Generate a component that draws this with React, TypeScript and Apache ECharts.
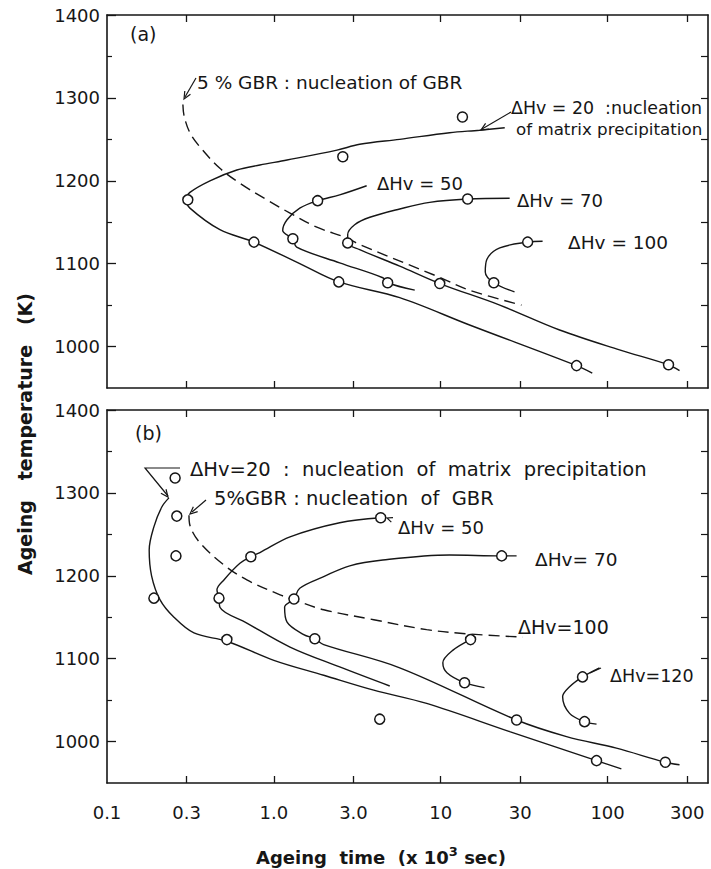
import React, { useEffect, useRef } from "react";
import * as echarts from "echarts";

// ---------- axes ----------
const timeTicks = [0.1, 0.3, 1, 3, 10, 30, 100, 300];
const timeTickLabels = ["0.1", "0.3", "1.0", "3.0", "10", "30", "100", "300"];
const timeMin = 0.1;
const timeMax = 400;
const tempMin = 950;
const tempMax = 1400;
const tempMajorTicks = [1000, 1100, 1200, 1300, 1400];
const tempMinorTicks = [1050, 1150, 1250, 1350];
const tempRightTicks = [1000, 1050, 1100, 1150, 1200, 1250, 1300, 1350];

// ---------- panel (a) ----------
const aMeasured: [number, number][] = [
  [0.305, 1177], [2.59, 1229], [1.83, 1176], [0.76, 1126], [1.3, 1130],
  [2.77, 1125], [2.45, 1078], [4.81, 1077], [9.87, 1076], [14.5, 1178],
  [33.2, 1126], [20.8, 1077], [65.2, 977], [232, 978], [13.5, 1277],
];
const aGbr5: [number, number][] = [
  [0.285, 1292], [0.29, 1278], [0.314, 1258], [0.36, 1241], [0.475, 1215],
  [0.626, 1197], [0.908, 1177], [1.25, 1161], [1.81, 1144], [2.74, 1131],
  [3.27, 1123], [9.46, 1085], [14.9, 1068], [30.5, 1050],
];
const aHv20: [number, number][] = [
  [24.2, 1264], [17.1, 1261], [11.3, 1258], [5.68, 1250], [3.27, 1244],
  [2.39, 1237], [1.2, 1225], [0.825, 1219], [0.6, 1213], [0.414, 1200],
  [0.314, 1186], [0.298, 1177], [0.314, 1167], [0.475, 1141], [0.76, 1126],
  [1.43, 1100], [2.45, 1078], [5.68, 1059], [14.9, 1026], [65.2, 977], [81, 968],
];
const aHv50: [number, number][] = [
  [3.6, 1194], [2.48, 1183], [1.83, 1176], [1.43, 1167], [1.2, 1153],
  [1.13, 1140], [1.3, 1130], [1.37, 1120], [2.48, 1101], [4.5, 1083],
  [4.81, 1077], [6.99, 1068],
];
const aHv70: [number, number][] = [
  [25.9, 1179], [14.5, 1178], [8.59, 1174], [5.68, 1166], [3.76, 1156],
  [3.05, 1147], [2.77, 1135], [2.77, 1125], [3.27, 1117], [5.68, 1097],
  [9.87, 1076], [22.6, 1050], [51.6, 1020], [118, 996], [232, 978], [270, 971],
];
const aHv100: [number, number][] = [
  [40.8, 1127], [33.2, 1126], [22.6, 1119], [18.9, 1105], [18.5, 1090],
  [20.8, 1077], [27.7, 1066],
];

// ---------- panel (b) ----------
const bMeasured: [number, number][] = [
  [0.256, 1318], [0.262, 1272], [0.259, 1224], [0.191, 1173], [0.523, 1123],
  [0.728, 1223], [0.469, 1173], [1.32, 1172], [1.76, 1124], [4.37, 1270],
  [4.31, 1027], [23.2, 1224], [15.1, 1123], [13.9, 1071], [28.5, 1026],
  [85.9, 977], [222, 975], [70.8, 1078], [72.8, 1024],
];
const bGbr5: [number, number][] = [
  [0.31, 1273], [0.314, 1261], [0.36, 1240], [0.502, 1213], [0.689, 1195],
  [1.09, 1177], [1.32, 1171], [1.99, 1159], [3.97, 1147], [8.24, 1135],
  [14.3, 1130], [31, 1126],
];
const bHv20: [number, number][] = [
  [0.235, 1294], [0.213, 1283], [0.191, 1259], [0.179, 1231], [0.185, 1200],
  [0.208, 1171], [0.252, 1150], [0.332, 1131], [0.523, 1121], [1.0, 1098],
  [1.99, 1080], [3.97, 1062], [8.24, 1046], [25.9, 1012], [85.9, 977], [121, 967],
];
const bHv50: [number, number][] = [
  [4.37, 1270], [2.48, 1264], [1.25, 1247], [0.825, 1228], [0.728, 1223],
  [0.626, 1215], [0.502, 1195], [0.456, 1183], [0.469, 1173], [0.475, 1162],
  [0.689, 1143], [1.25, 1114], [2.48, 1090], [4.95, 1067],
];
const bHv70: [number, number][] = [
  [28.5, 1224], [23.2, 1224], [11.3, 1225], [4.5, 1219], [2.85, 1212],
  [1.99, 1199], [1.43, 1185], [1.32, 1172], [1.16, 1162], [1.2, 1144],
  [1.51, 1129], [1.76, 1124], [1.99, 1117], [5.68, 1089], [28.5, 1026],
  [56.8, 1006], [113, 992], [222, 975], [270, 972],
];
const bHv100: [number, number][] = [
  [15.1, 1123], [11.8, 1110], [10.3, 1095], [10.9, 1083], [13.9, 1071], [18.3, 1065],
];
const bHv120: [number, number][] = [
  [89.5, 1089], [70.8, 1078], [59.2, 1066], [53.8, 1054], [59.2, 1034],
  [72.8, 1024], [85.9, 1021],
];

const INK = "#161616";
const FONT = "DejaVu Sans";

function fmtTime(v: number): string {
  for (let i = 0; i < timeTicks.length; i++) {
    if (Math.abs(Math.log10(v) - Math.log10(timeTicks[i])) < 1e-6) return timeTickLabels[i];
  }
  return "";
}

function xAxesFor(gridIndex: number, showLabels: boolean) {
  const base: any = {
    type: "log",
    logBase: 10,
    gridIndex,
    min: timeMin,
    max: timeMax,
    splitLine: { show: false },
    minorTick: { show: false },
    axisLine: { show: true, lineStyle: { color: INK, width: 1.6 } },
    axisTick: {
      show: true,
      inside: true,
      length: 7,
      customValues: timeTicks.slice(1),
      lineStyle: { color: INK, width: 1.3 },
    },
  };
  return [
    {
      ...base,
      position: "bottom",
      axisLabel: showLabels
        ? {
            show: true,
            customValues: timeTicks,
            formatter: fmtTime,
            margin: 20,
            fontSize: 18,
            color: INK,
            fontFamily: FONT,
          }
        : { show: false },
    },
    { ...base, position: "top", axisLabel: { show: false } },
  ];
}

function yAxesFor(gridIndex: number) {
  const base: any = {
    type: "value",
    gridIndex,
    min: tempMin,
    max: tempMax,
    splitLine: { show: false },
  };
  return [
    {
      ...base,
      position: "left",
      axisLine: { show: true, lineStyle: { color: INK, width: 1.6 } },
      axisTick: {
        show: true,
        inside: true,
        length: 9,
        customValues: tempMajorTicks,
        lineStyle: { color: INK, width: 1.3 },
      },
      axisLabel: {
        show: true,
        customValues: tempMajorTicks,
        formatter: (v: number) => String(Math.round(v)),
        margin: 7,
        fontSize: 18,
        color: INK,
        fontFamily: FONT,
      },
    },
    {
      ...base,
      position: "left",
      axisLine: { show: false },
      axisTick: {
        show: true,
        inside: true,
        length: 5,
        customValues: tempMinorTicks,
        lineStyle: { color: INK, width: 1.2 },
      },
      axisLabel: { show: false },
    },
    {
      ...base,
      position: "right",
      axisLine: { show: true, lineStyle: { color: INK, width: 1.6 } },
      axisTick: {
        show: true,
        inside: true,
        length: 7,
        customValues: tempRightTicks,
        lineStyle: { color: INK, width: 1.2 },
      },
      axisLabel: { show: false },
    },
  ];
}

function curve(data: [number, number][], xi: number, yi: number, dashed = false) {
  return {
    type: "line",
    xAxisIndex: xi,
    yAxisIndex: yi,
    data,
    smooth: 0.35,
    symbol: "none",
    silent: true,
    lineStyle: { color: INK, width: 1.4, type: dashed ? [11, 6] : "solid" },
    z: 2,
  };
}

function points(data: [number, number][], xi: number, yi: number) {
  return {
    type: "scatter",
    xAxisIndex: xi,
    yAxisIndex: yi,
    data,
    symbol: "circle",
    symbolSize: 10,
    itemStyle: { color: "#ffffff", borderColor: INK, borderWidth: 1.5, opacity: 1 },
    emphasis: { disabled: true },
    z: 5,
  };
}

function label(text: string, x: number, y: number, fontSize = 18, extra: any = {}) {
  return {
    type: "text",
    x,
    y,
    z: 10,
    style: {
      text,
      fill: INK,
      font: `${fontSize}px "${FONT}"`,
      textAlign: "left",
      textVerticalAlign: "middle",
      ...extra,
    },
  };
}

function seg(x1: number, y1: number, x2: number, y2: number) {
  return {
    type: "line",
    z: 10,
    shape: { x1, y1, x2, y2 },
    style: { stroke: INK, lineWidth: 1.2 },
  };
}

function arrowHead(fx: number, fy: number, tx: number, ty: number, len = 8) {
  const ang = Math.atan2(ty - fy, tx - fx);
  const a1 = ang + Math.PI - 0.42;
  const a2 = ang + Math.PI + 0.42;
  return {
    type: "polyline",
    z: 10,
    shape: {
      points: [
        [tx + len * Math.cos(a1), ty + len * Math.sin(a1)],
        [tx, ty],
        [tx + len * Math.cos(a2), ty + len * Math.sin(a2)],
      ],
    },
    style: { stroke: INK, lineWidth: 1.2, fill: "none" },
  };
}

export default function App() {
  const ref = useRef<HTMLDivElement>(null);
  useEffect(() => {
    if (!ref.current) return;
    const chart = echarts.init(ref.current, undefined, { renderer: "svg" });
    const option: any = {
      animation: false,
      backgroundColor: "#ffffff",
      grid: [
        { left: 107, top: 15, width: 601, height: 373 },
        { left: 107, top: 410, width: 601, height: 373 },
      ],
      xAxis: [...xAxesFor(0, false), ...xAxesFor(1, true)],
      yAxis: [...yAxesFor(0), ...yAxesFor(1)],
      series: [
        curve(aGbr5, 0, 0, true),
        curve(aHv20, 0, 0),
        curve(aHv50, 0, 0),
        curve(aHv70, 0, 0),
        curve(aHv100, 0, 0),
        points(aMeasured, 0, 0),
        curve(bGbr5, 2, 3, true),
        curve(bHv20, 2, 3),
        curve(bHv50, 2, 3),
        curve(bHv70, 2, 3),
        curve(bHv100, 2, 3),
        curve(bHv120, 2, 3),
        points(bMeasured, 2, 3),
      ],
      graphic: [
        // panel (a)
        label("(a)", 130, 34, 19),
        label("5 % GBR : nucleation of GBR", 197, 82, 18.5),
        seg(196, 78, 185, 97),
        arrowHead(196, 78, 184, 99),
        label("ΔHv = 20  :nucleation", 511, 108, 17.4),
        label("of matrix precipitation", 516, 129, 16.7),
        seg(511, 112, 482, 129),
        arrowHead(511, 112, 481, 130),
        label("ΔHv = 50", 377, 183, 18),
        label("ΔHv = 70", 517, 200, 18),
        label("ΔHv = 100", 568, 242, 18.5),
        // panel (b)
        label("(b)", 135, 433, 19),
        label("ΔHv=20  :  nucleation  of  matrix  precipitation", 190, 469, 19.5),
        {
          type: "polyline",
          z: 10,
          shape: { points: [[180, 468], [145, 468], [168, 496]] },
          style: { stroke: INK, lineWidth: 1.2, fill: "none" },
        },
        arrowHead(145, 468, 168, 497),
        label("5%GBR : nucleation  of  GBR", 214, 498, 19.5),
        seg(206, 500, 192, 512),
        arrowHead(206, 500, 190, 514),
        label("ΔHv = 50", 398, 527, 18),
        arrowHead(398, 522, 387, 518, 6),
        label("ΔHv= 70", 535, 559, 18.5),
        label("ΔHv=100", 518, 627, 19),
        label("ΔHv=120", 610, 676, 17.5),
        seg(590, 673, 601, 668),
        // axis titles
        {
          type: "text",
          x: 25,
          y: 434,
          rotation: Math.PI / 2,
          z: 10,
          style: {
            text: "Ageing   temperature   (K)",
            fill: INK,
            font: `bold 19px "${FONT}"`,
            textAlign: "center",
            textVerticalAlign: "middle",
          },
        },
        {
          type: "text",
          x: 381,
          y: 857,
          z: 10,
          style: {
            text: "{a|Ageing  time  (x 10}{s|3}{a| sec)}",
            textAlign: "center",
            textVerticalAlign: "middle",
            rich: {
              a: { fontSize: 18, fontWeight: "bold", fontFamily: FONT, fill: INK, lineHeight: 24 },
              s: { fontSize: 13, fontWeight: "bold", fontFamily: FONT, fill: INK, lineHeight: 13, verticalAlign: "top" },
            },
          },
        },
      ],
    };
    chart.setOption(option);
    return () => chart.dispose();
  }, []);
  return (
    <div
      ref={ref}
      style={{ position: "absolute", left: 0, top: 0, width: 711, height: 869, background: "#fff" }}
    />
  );
}
